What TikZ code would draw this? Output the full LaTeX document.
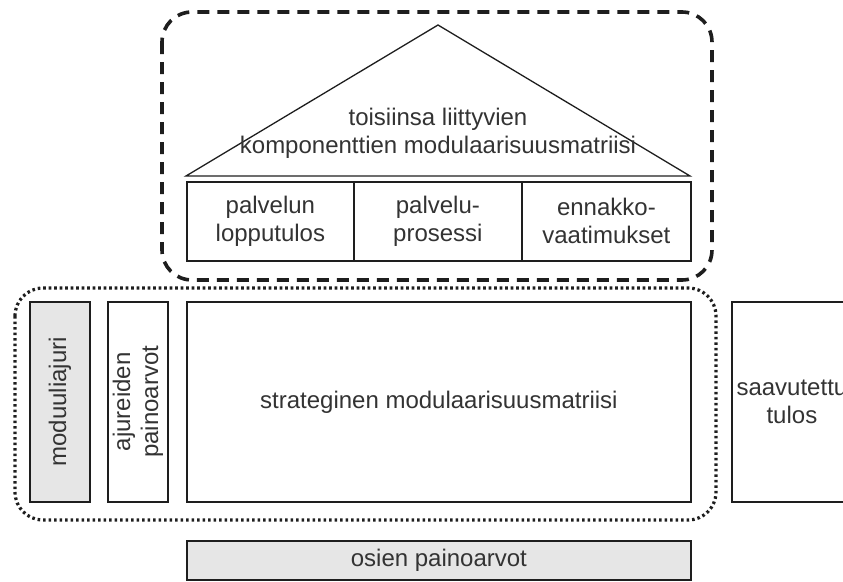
\documentclass[tikz,border=0pt]{standalone}
\usepackage{fontspec}
\setmainfont{Liberation Sans}
\definecolor{edge}{HTML}{1E1E1E}
\definecolor{txt}{HTML}{333333}
\definecolor{shade}{HTML}{E6E6E6}
\begin{document}
\begin{tikzpicture}[x=1pt,y=-1pt,
  every node/.style={font=\fontsize{24}{28}\selectfont, text=txt},
  cell/.style={draw=edge, line width=1.8pt, inner sep=0pt, align=center,
    anchor=north west},
  roofline/.style={draw=edge, line width=1.3pt},
  dashgroup/.style={draw=edge, line width=3.6pt, rounded corners=30pt,
    dash pattern=on 12pt off 8pt},
  dotgroup/.style={draw=edge, line width=3.2pt, rounded corners=28pt,
    dash pattern=on 2.6pt off 2.9pt}]
\useasboundingbox (0,0) rectangle (843,581);
\clip (0,0) rectangle (843,581);

% upper group: component matrix under a roof
\draw[dashgroup] (162,12) rectangle (712,280);
\draw[roofline] (186,176) -- (438,25) -- (690,176) -- cycle;
\node[align=center] (roof) at (438,133)
  {toisiinsa liittyvien\\komponenttien modulaarisuusmatriisi};
\node[cell, minimum width=167pt, minimum height=79pt] (pl) at (186,181)
  {palvelun\\lopputulos};
\node[cell, minimum width=168pt, minimum height=79pt] (pp) at (353,181)
  {palvelu-\\prosessi};
\node[cell, minimum width=169pt, minimum height=79pt] (ev) at (521,181)
  {ennakko-\\vaatimukset};

% lower group: strategic matrix with its drivers
\draw[dotgroup] (15,288) rectangle (716,520);
\node[cell, fill=shade, minimum width=60pt, minimum height=200pt] (mod) at (29,301) {};
\node[rotate=90] (modtxt) at (mod.center) {moduuliajuri};
\node[cell, minimum width=60pt, minimum height=200pt] (aju) at (107,301) {};
\node[rotate=90, align=center] (ajutxt) at (aju.center) {ajureiden\\painoarvot};
\node[cell, minimum width=504pt, minimum height=200pt] (str) at (186,301)
  {strateginen modulaarisuusmatriisi};
\node[cell, minimum width=120pt, minimum height=200pt] (saa) at (731,301)
  {saavutettu\\tulos};
\node[cell, fill=shade, minimum width=504pt, minimum height=39pt] (osi) at (186,540)
  {osien painoarvot};
\end{tikzpicture}
\end{document}
